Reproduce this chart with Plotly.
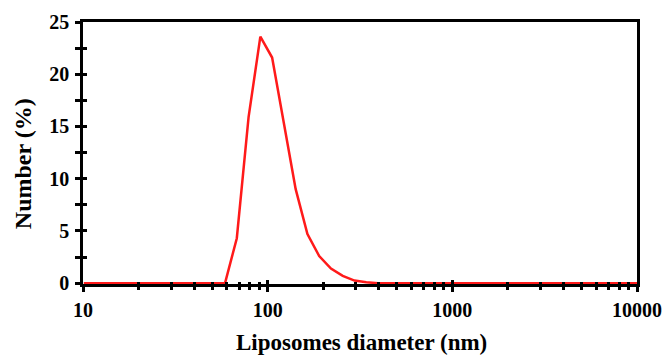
import plotly.graph_objects as go

diameter_nm = [10.10, 11.70, 13.54, 15.69, 18.17, 21.04, 24.36, 28.21, 32.67, 37.84,
               43.82, 50.75, 58.77, 68.06, 78.82, 91.28, 105.7, 122.4, 141.8, 164.2,
               190.1, 220.2, 255.0, 295.3, 342.0, 396.1, 458.7, 531.2, 615.1, 712.4,
               825.0, 955.4, 1106, 1281, 1484, 1718, 1990, 2305, 2669, 3091, 3580,
               4145, 4801, 5560, 6439, 7456, 8635, 10000]
number_pct = [0, 0, 0, 0, 0, 0, 0, 0, 0, 0,
              0, 0, 0, 4.3, 15.9, 23.6, 21.6, 15.3, 9.0, 4.7,
              2.6, 1.4, 0.7, 0.25, 0.08, 0, 0, 0, 0, 0,
              0, 0, 0, 0, 0, 0, 0, 0, 0, 0, 0,
              0, 0, 0, 0, 0, 0, 0]

x_major = [10, 100, 1000, 10000]
x_major_labels = ["10", "100", "1000", "10000"]
x_minor = [20, 30, 40, 50, 60, 70, 80, 90,
           200, 300, 400, 500, 600, 700, 800, 900,
           2000, 3000, 4000, 5000, 6000, 7000, 8000, 9000]
y_major = [0, 5, 10, 15, 20, 25]
y_minor = [2.5, 7.5, 12.5, 17.5, 22.5]

x_title = "Liposomes diameter (nm)"
y_title = "Number (%)"

font_family = "Liberation Serif"
tick_font = dict(family=font_family, size=20, color="black", weight="bold")

fig = go.Figure()
fig.add_trace(go.Scatter(x=diameter_nm, y=number_pct, mode="lines",
                         line=dict(color="#ff1a1a", width=2.5), showlegend=False))

xr = [1, 4]
yr = [-0.08, 25]

fig.update_layout(
    width=667, height=357,
    margin=dict(l=83, r=30, t=22, b=73),
    paper_bgcolor="white", plot_bgcolor="white",
    xaxis=dict(type="log", range=xr, showgrid=False, zeroline=False, automargin=False,
               showline=True, linecolor="black", linewidth=2.5, mirror=True,
               tickmode="array", tickvals=x_major, ticktext=x_major_labels,
               ticks="outside", ticklen=5, tickwidth=3, tickcolor="black",
               tickfont=tick_font, ticklabelstandoff=1,
               minor=dict(tickmode="array", tickvals=x_minor, ticks="outside",
                          ticklen=3, tickwidth=3, tickcolor="black", showgrid=False),
               layer="above traces"),
    xaxis2=dict(type="log", range=xr, overlaying="x", anchor="y", side="bottom",
                showgrid=False, zeroline=False, showline=False, automargin=False,
                tickmode="array", tickvals=x_major, showticklabels=False,
                ticks="inside", ticklen=4, tickwidth=3, tickcolor="black",
                minor=dict(tickmode="array", tickvals=x_minor, ticks="inside",
                           ticklen=2, tickwidth=3, tickcolor="black", showgrid=False),
                layer="above traces"),
    yaxis=dict(range=yr, showgrid=False, zeroline=False, automargin=False,
               showline=True, linecolor="black", linewidth=2.5, mirror=True,
               tickmode="array", tickvals=y_major,
               ticks="outside", ticklen=5, tickwidth=2.5, tickcolor="black",
               tickfont=tick_font, ticklabelstandoff=2,
               minor=dict(tickmode="array", tickvals=y_minor, ticks="outside",
                          ticklen=5, tickwidth=2.5, tickcolor="black", showgrid=False),
               layer="above traces"),
    yaxis2=dict(range=yr, overlaying="y", anchor="x", side="left",
                showgrid=False, zeroline=False, showline=False, automargin=False,
                tickmode="array", tickvals=y_major, showticklabels=False,
                ticks="inside", ticklen=4, tickwidth=2.5, tickcolor="black",
                minor=dict(tickmode="array", tickvals=y_minor, ticks="inside",
                           ticklen=4, tickwidth=2.5, tickcolor="black", showgrid=False),
                layer="above traces"),
    annotations=[
        dict(text=x_title, xref="paper", yref="paper", x=0.5036, y=-0.225,
             xanchor="center", yanchor="middle", showarrow=False,
             font=dict(family=font_family, size=23, color="black", weight="bold")),
        dict(text=y_title, xref="paper", yref="paper", x=-0.108, y=0.458,
             xanchor="center", yanchor="middle", showarrow=False, textangle=-90,
             font=dict(family=font_family, size=24, color="black", weight="bold")),
    ],
)
# invisible helper trace to activate overlay axes
fig.add_trace(go.Scatter(x=[diameter_nm[0]], y=[number_pct[0]], xaxis="x2", yaxis="y2",
                         mode="markers", marker=dict(opacity=0), showlegend=False,
                         hoverinfo="skip"))

fig.write_html("out.html")
